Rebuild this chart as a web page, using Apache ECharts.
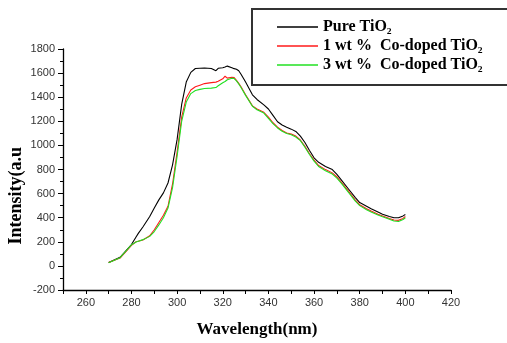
<!DOCTYPE html>
<html><head><meta charset="utf-8">
<script src="https://cdn.jsdelivr.net/npm/echarts@6/dist/echarts.min.js"></script>
<style>html,body{margin:0;padding:0;background:#fff}#c{width:507px;height:343px}</style>
</head><body><div id="c"></div>
<script>
const wavelengths = [270,275,280,282,283,285,288,290,292,294,296,298,300,302,304,306,308,310,312,315,317,318,320,321,322,324,325,326,327,328,330,333,335,338,340,342,344,346,348,350,352,354,356,358,360,362,365,368,370,372,375,378,380,383,385,388,390,393,395,397,399,400];
const pureTiO2 = [29,71,177,240,270,323,410,481,548,606,688,839,1050,1341,1526,1606,1638,1640,1642,1638,1620,1640,1645,1650,1658,1645,1637,1632,1619,1590,1526,1420,1381,1336,1302,1249,1196,1169,1151,1135,1116,1077,1024,958,897,860,825,799,759,712,640,569,526,495,474,447,429,410,399,399,415,426];
const co1 = [28,65,170,200,205,215,250,300,360,420,495,680,944,1235,1394,1460,1487,1500,1513,1521,1525,1532,1553,1574,1558,1566,1563,1540,1515,1487,1420,1328,1302,1275,1235,1188,1151,1124,1103,1095,1077,1045,992,931,878,833,799,772,738,693,622,548,508,474,455,429,415,394,381,378,394,410];
const co3 = [27,68,175,198,205,218,245,285,340,400,480,650,910,1200,1360,1430,1455,1465,1472,1475,1480,1495,1520,1530,1545,1558,1555,1535,1510,1480,1415,1325,1295,1268,1225,1180,1145,1118,1098,1088,1070,1040,985,925,870,825,790,762,728,685,612,540,500,466,448,422,408,388,372,368,385,400];
const seriesNames = ['Pure TiO₂','1 wt %  Co-doped TiO₂','3 wt %  Co-doped TiO₂'];
const xTicks = {min:250,max:420};
const yTicks = {min:-200,max:1800,interval:200};

const chart = echarts.init(document.getElementById('c'));
const pair = (ys) => wavelengths.map((w,i)=>[w,ys[i]]);
const mk = (name, ys, color) => ({name, type:'line', data:pair(ys), showSymbol:false, symbol:'none', lineStyle:{color, width:1.1}, itemStyle:{color}, animation:false});
const axisFont = {color:'#333', fontFamily:'Liberation Sans', fontSize:11};
chart.setOption({
  animation:false,
  grid:{left:63, right:56, top:49, bottom:42},
  xAxis:{type:'value', min:xTicks.min, max:xTicks.max, interval:10,
    axisLine:{show:true, onZero:false, lineStyle:{color:'#000', width:1.3}},
    axisTick:{show:true, length:4, lineStyle:{color:'#000'}},
    axisLabel:Object.assign({margin:7, formatter:v => (v%20===0 ? String(v) : '')}, axisFont),
    splitLine:{show:false},
    name:'Wavelength(nm)', nameLocation:'middle', nameGap:31,
    nameTextStyle:{fontFamily:'Liberation Serif', fontWeight:'bold', fontSize:17, color:'#000'}},
  yAxis:{type:'value', min:yTicks.min, max:yTicks.max, interval:yTicks.interval,
    axisLine:{show:true, lineStyle:{color:'#000', width:1.3}},
    axisTick:{show:true, length:5, lineStyle:{color:'#000'}},
    minorTick:{show:true, splitNumber:2, length:3, lineStyle:{color:'#000'}},
    axisLabel:Object.assign({margin:8, formatter:v => String(v)}, axisFont),
    splitLine:{show:false}},
  legend:{orient:'vertical', left:252, top:9, itemWidth:41, itemHeight:1.5, icon:'rect', itemGap:3,
    borderColor:'#333', borderWidth:2, padding:[10,90,12,25], backgroundColor:'#fff',
    data:seriesNames,
    textStyle:{fontFamily:'Liberation Serif', fontWeight:'bold', fontSize:16, color:'#000', lineHeight:16}},
  graphic:[{type:'text', left:7, top:147, rotation:Math.PI/2, style:{text:'Intensity(a.u', font:'bold 18px "Liberation Serif"', fill:'#000'}}],
  series:[mk(seriesNames[0], pureTiO2, '#000000'), mk(seriesNames[1], co1, '#ff1a1a'), mk(seriesNames[2], co3, '#22e022')]
});
</script></body></html>
